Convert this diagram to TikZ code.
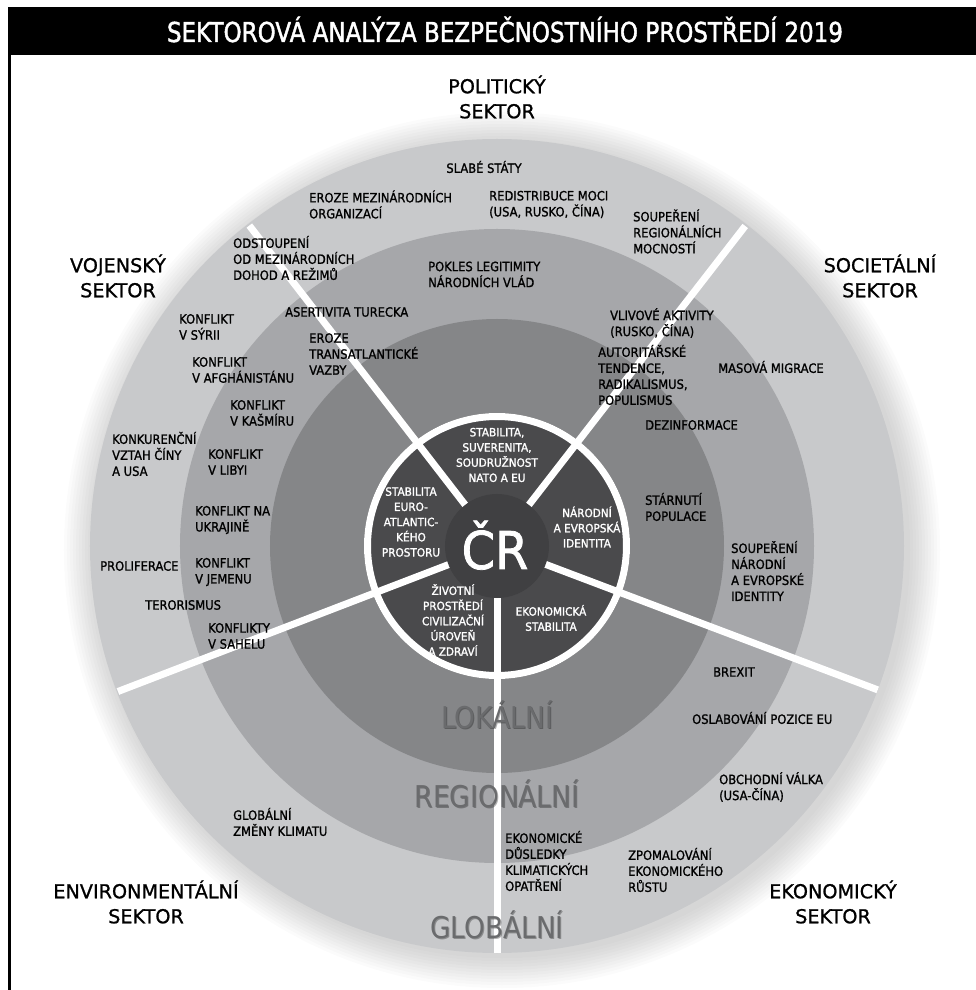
\documentclass[tikz,border=0pt]{standalone}
\usepackage{fontspec}
\setmainfont[FakeBold=1]{DejaVu Sans}
\newfontfamily\labfont[FakeStretch=0.9,FakeBold=1.2]{DejaVu Sans}
\newfontfamily\urovenfont[FakeStretch=0.88]{DejaVu Sans}
\newfontfamily\jadrofont[FakeStretch=0.92,FakeBold=1.5]{DejaVu Sans}
\newfontfamily\titfont[FakeStretch=0.84,FakeBold=1.5]{DejaVu Sans}
\usepackage{tikz}

\definecolor{globgray}{HTML}{C8C9CB}
\definecolor{reggray}{HTML}{A6A7AA}
\definecolor{lokgray}{HTML}{858688}
\definecolor{jadro}{HTML}{4A4A4C}
\definecolor{crgray}{HTML}{404042}
\definecolor{ringtext}{HTML}{6A6B6D}

\tikzset{
  sektor/.style={align=center, inner sep=0pt, font=\fontsize{19.2}{25}\selectfont},
  hrozba/.style={align=left, anchor=west, inner sep=0pt, font=\labfont\fontsize{12.8}{16}\selectfont},
  zajem/.style={align=center, inner sep=0pt, text=white, font=\jadrofont\fontsize{11.4}{15.2}\selectfont},
  uroven/.style={anchor=base, inner sep=0pt, text=ringtext, font=\urovenfont\fontsize{30}{30}\selectfont},
  delic/.style={white, line width=7pt},
}

\begin{document}
\begin{tikzpicture}[x=1pt,y=1pt]
\useasboundingbox (-497,-444) rectangle (479,546);
% titulek a ramecek
\fill[black] (-489,491) rectangle (479,539);
\fill[black] (-489,491) rectangle (-486,-444);
\node[anchor=base, inner sep=0pt, text=white, font=\titfont\fontsize{27.4}{27.4}\selectfont] (titulek) at (8,504) {SEKTOROVÁ ANALÝZA BEZPEČNOSTNÍHO PROSTŘEDÍ 2019};

% kruhy
\foreach \i in {1,...,11}
  \fill[black, opacity=0.014] (5,-4) circle (405+3*\i);
\fill[globgray] (0,0) circle (407);
\fill[reggray] (0,0) circle (317);
\fill[lokgray] (0,0) circle (227);
\fill[jadro] (0,0) circle (133);

% delici cary
\coordinate (stred) at (0,0);
\coordinate (hVojPol) at (127.7:405);
\coordinate (hPolSoc) at (52.2:405);
\coordinate (hSocEko) at (-20.7:407);
\coordinate (hEkoEnv) at (-90:407);
\coordinate (hEnvVoj) at (201:406);
\draw[delic] (stred) -- (hVojPol);
\draw[delic] (stred) -- (hPolSoc);
\draw[delic] (stred) -- (hSocEko);
\draw[delic] (stred) -- (hEkoEnv);
\draw[delic] (stred) -- (hEnvVoj);
\draw[white, line width=7pt] (0,0) circle (129.5);
\fill[crgray] (0,0) circle (52);
\node[anchor=base, inner sep=0pt, text=white, font=\jadrofont\fontsize{52}{52}\selectfont] (cr) at (-2,-23) {ČR};

% urovne
\node[uroven, text=black, opacity=0.3] (lokStin) at (1,-183) {LOKÁLNÍ};
\node[uroven] (lok) at (0,-182) {LOKÁLNÍ};
\node[uroven, text=black, opacity=0.3] (regStin) at (1,-262) {REGIONÁLNÍ};
\node[uroven] (reg) at (0,-261) {REGIONÁLNÍ};
\node[uroven, text=black, opacity=0.3] (globStin) at (1,-393) {GLOBÁLNÍ};
\node[uroven] (glob) at (0,-392) {GLOBÁLNÍ};

% zajmy CR
\node[zajem] (nato) at (0,91) {STABILITA,\\SUVERENITA,\\SOUDRUŽNOST\\NATO A EU};
\node[zajem] (euroatl) at (-86,24) {STABILITA\\EURO-\\ATLANTIC-\\KÉHO\\PROSTORU};
\node[zajem] (identita) at (90,19) {NÁRODNÍ\\A EVROPSKÁ\\IDENTITA};
\node[zajem] (zivotni) at (-44,-74) {ŽIVOTNÍ\\PROSTŘEDÍ\\CIVILIZAČNÍ\\ÚROVEŇ\\A ZDRAVÍ};
\node[zajem] (ekstab) at (54,-72) {EKONOMICKÁ\\STABILITA};

% sektory
\node[sektor] (politicky) at (0,449) {POLITICKÝ\\SEKTOR};
\node[sektor] (vojensky) at (-379,270) {VOJENSKÝ\\SEKTOR};
\node[sektor] (societalni) at (383,270) {SOCIETÁLNÍ\\SEKTOR};
\node[sektor] (ekonomicky) at (336,-356) {EKONOMICKÝ\\SEKTOR};
\node[sektor] (environment) at (-351,-356) {ENVIRONMENTÁLNÍ\\SEKTOR};

% politicky sektor
\node[hrozba, anchor=center] (slabe) at (-13,379) {SLABÉ STÁTY};
\node[hrozba] (erozeOrg) at (-188,341.5) {EROZE MEZINÁRODNÍCH\\ORGANIZACÍ};
\node[hrozba] (redistribuce) at (-8,341.5) {REDISTRIBUCE MOCI\\(USA, RUSKO, ČÍNA)};
\node[hrozba] (soupReg) at (136,314.5) {SOUPEŘENÍ\\REGIONÁLNÍCH\\MOCNOSTÍ};
\node[hrozba] (odstoupeni) at (-264,288) {ODSTOUPENÍ\\OD MEZINÁRODNÍCH\\DOHOD A REŽIMŮ};
\node[hrozba] (pokles) at (-69,271.5) {POKLES LEGITIMITY\\NÁRODNÍCH VLÁD};
\node[hrozba] (asertivita) at (-212,234) {ASERTIVITA TURECKA};
\node[hrozba] (erozeTrans) at (-188,192) {EROZE\\TRANSATLANTICKÉ\\VAZBY};

% vojensky sektor
\node[hrozba] (syrie) at (-318,219) {KONFLIKT\\V SÝRII};
\node[hrozba] (afghan) at (-305,176) {KONFLIKT\\V AFGHÁNISTÁNU};
\node[hrozba] (kasmir) at (-267,133) {KONFLIKT\\V KAŠMÍRU};
\node[hrozba] (konkurence) at (-385,92) {KONKURENČNÍ\\VZTAH ČÍNY\\A USA};
\node[hrozba] (libye) at (-289,84) {KONFLIKT\\V LIBYI};
\node[hrozba] (ukrajina) at (-302,26) {KONFLIKT NA\\UKRAJINĚ};
\node[hrozba] (proliferace) at (-397,-20) {PROLIFERACE};
\node[hrozba] (jemen) at (-302,-26) {KONFLIKT\\V JEMENU};
\node[hrozba] (terorismus) at (-352,-59) {TERORISMUS};
\node[hrozba] (sahel) at (-289,-90) {KONFLIKTY\\V SAHELU};

% societalni sektor
\node[hrozba] (vlivove) at (113,223) {VLIVOVÉ AKTIVITY\\(RUSKO, ČÍNA)};
\node[hrozba] (autoritar) at (101,171) {AUTORITÁŘSKÉ\\TENDENCE,\\RADIKALISMUS,\\POPULISMUS};
\node[hrozba] (migrace) at (221,179) {MASOVÁ MIGRACE};
\node[hrozba] (dezinfo) at (148,121) {DEZINFORMACE};
\node[hrozba] (starnuti) at (148,39) {STÁRNUTÍ\\POPULACE};
\node[hrozba] (soupNar) at (234,-25) {SOUPEŘENÍ\\NÁRODNÍ\\A EVROPSKÉ\\IDENTITY};

% ekonomicky sektor
\node[hrozba] (brexit) at (216,-126) {BREXIT};
\node[hrozba] (oslabovani) at (195,-172) {OSLABOVÁNÍ POZICE EU};
\node[hrozba] (obchodni) at (222,-241) {OBCHODNÍ VÁLKA\\(USA-ČÍNA)};
\node[hrozba] (zpomalovani) at (131,-324) {ZPOMALOVÁNÍ\\EKONOMICKÉHO\\RŮSTU};
\node[hrozba] (dusledky) at (8,-315) {EKONOMICKÉ\\DŮSLEDKY\\KLIMATICKÝCH\\OPATŘENÍ};

% environmentalni sektor
\node[hrozba] (klima) at (-264,-276) {GLOBÁLNÍ\\ZMĚNY KLIMATU};
\end{tikzpicture}
\end{document}
